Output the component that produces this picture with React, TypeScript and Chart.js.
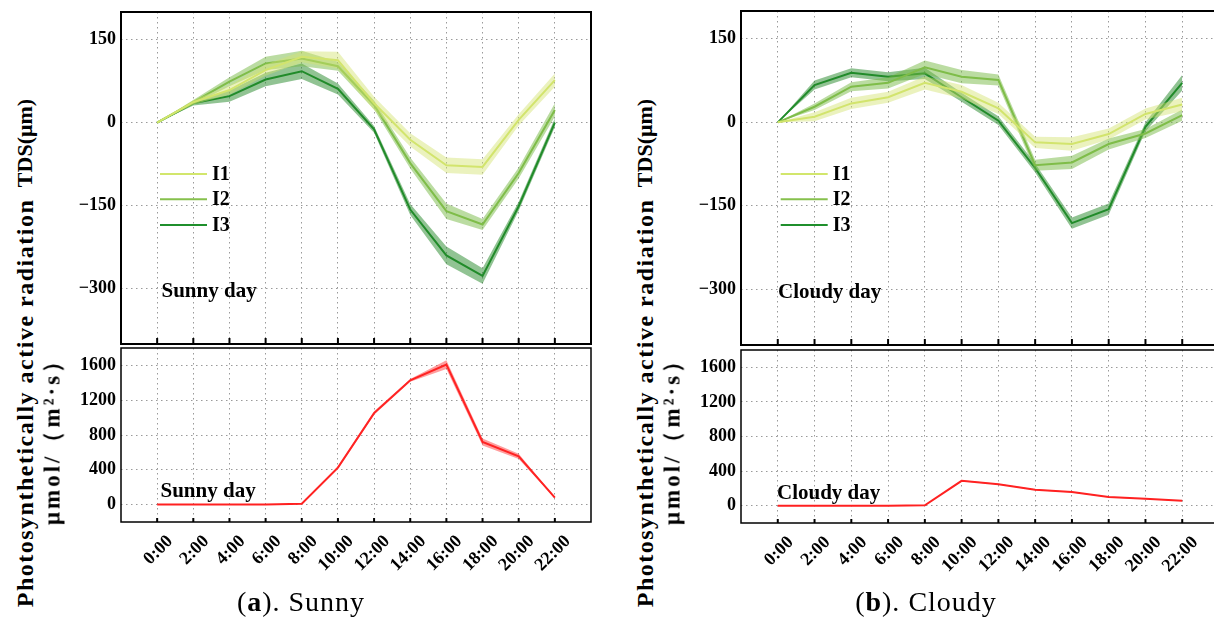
import React, { useEffect, useRef } from "react";
import { Chart, registerables } from "chart.js";
Chart.register(...registerables);

// ---------- data ----------
const hours = ["0:00", "2:00", "4:00", "6:00", "8:00", "10:00", "12:00", "14:00", "16:00", "18:00", "20:00", "22:00"];
const tdsTicks = [-300, -150, 0, 150];
const parTicks = [0, 400, 800, 1200, 1600];
const seriesNames = ["I1", "I2", "I3"];

const sunnyI1 = [0, 37, 59, 95, 119, 113, 35, -31, -77, -80, 5, 77];
const sunnyI1Err = [0, 4, 8, 10, 10, 15, 12, 12, 14, 14, 10, 12];
const sunnyI2 = [0, 37, 74, 107, 116, 102, 32, -73, -160, -184, -91, 23];
const sunnyI2Err = [0, 4, 8, 12, 14, 8, 8, 10, 14, 10, 10, 12];
const sunnyI3 = [0, 35, 48, 78, 93, 61, -12, -157, -240, -277, -151, 0];
const sunnyI3Err = [0, 4, 10, 12, 14, 10, 6, 10, 16, 14, 8, 8];
const sunnyPAR = [0, 0, 0, 0, 10, 425, 1052, 1428, 1610, 720, 555, 80];
const sunnyPARErr = [0, 0, 0, 0, 5, 15, 20, 15, 50, 40, 30, 5];

const cloudyI1 = [0, 10, 34, 45, 71, 55, 25, -36, -39, -21, 15, 32];
const cloudyI1Err = [0, 8, 10, 10, 12, 12, 10, 10, 12, 10, 10, 12];
const cloudyI2 = [0, 28, 64, 71, 99, 82, 76, -77, -72, -39, -20, 13];
const cloudyI2Err = [0, 6, 8, 10, 12, 12, 10, 10, 12, 10, 8, 10];
const cloudyI3 = [0, 67, 89, 82, 88, 45, 3, -82, -181, -156, -8, 71];
const cloudyI3Err = [0, 8, 8, 8, 10, 8, 8, 8, 10, 10, 8, 14];
const cloudyPAR = [0, 0, 0, 0, 5, 287, 249, 184, 157, 100, 80, 57];
const cloudyPARErr = [0, 0, 0, 0, 2, 6, 5, 5, 5, 4, 4, 3];

// ---------- styles ----------
const lineColors = ["#d2e66c", "#86c04c", "#1f8f2c"];
const bandColors = ["rgba(210,226,110,0.45)", "rgba(120,185,70,0.5)", "rgba(35,135,40,0.5)"];
const parLine = "#ff2020";
const parBand = "rgba(255,40,40,0.45)";
const SERIF = "'Liberation Serif', 'Times New Roman', serif";

Chart.defaults.color = "#000";

function pts(arr: number[], err?: number[], sign = 0) {
  return arr.map((v, i) => ({ x: i, y: v + sign * (err ? err[i] : 0) }));
}

function bandDatasets(vals: number[], err: number[], line: string, band: string) {
  return [
    { data: pts(vals, err, 1), borderWidth: 0, pointRadius: 0, fill: "+1", backgroundColor: band, borderColor: "rgba(0,0,0,0)" },
    { data: pts(vals, err, -1), borderWidth: 0, pointRadius: 0, fill: false, borderColor: "rgba(0,0,0,0)" },
    { data: pts(vals), borderWidth: 2, pointRadius: 0, fill: false, borderColor: line },
  ];
}

type Deco = {
  boxWidth: number;
  tickLen: number;
  label: string;
  labelDx: number;
  labelDy: number;
  legend?: { dx: number; dys: number[] };
};

function decoPlugin(d: Deco) {
  return {
    id: "deco",
    afterDraw(chart: any) {
      const { ctx, chartArea: a, scales } = chart;
      ctx.save();
      ctx.strokeStyle = "#000";
      ctx.lineWidth = d.boxWidth;
      ctx.strokeRect(a.left, a.top, a.right - a.left, a.bottom - a.top);
      ctx.lineWidth = 2;
      for (let i = 0; i < hours.length; i++) {
        const px = scales.x.getPixelForValue(i);
        ctx.beginPath();
        ctx.moveTo(px, a.bottom);
        ctx.lineTo(px, a.bottom - d.tickLen);
        ctx.stroke();
      }
      ctx.fillStyle = "#000";
      ctx.textBaseline = "alphabetic";
      ctx.textAlign = "left";
      ctx.font = `bold 21px ${SERIF}`;
      ctx.fillText(d.label, a.left + d.labelDx, a.top + d.labelDy);
      if (d.legend) {
        ctx.font = `bold 20px ${SERIF}`;
        ctx.textBaseline = "middle";
        d.legend.dys.forEach((dy, i) => {
          ctx.strokeStyle = lineColors[i];
          ctx.lineWidth = 2;
          ctx.beginPath();
          ctx.moveTo(a.left + d.legend!.dx, a.top + dy);
          ctx.lineTo(a.left + d.legend!.dx + 47, a.top + dy);
          ctx.stroke();
          ctx.fillText(seriesNames[i], a.left + d.legend!.dx + 52, a.top + dy + 1);
        });
      }
      ctx.restore();
    },
  };
}

function makeConfig(datasets: any[], yMin: number, yMax: number, yTicks: number[], bottom: boolean, pad: any, deco: Deco) {
  return {
    type: "line",
    data: { datasets },
    plugins: [decoPlugin(deco)],
    options: {
      animation: false,
      responsive: false,
      layout: { padding: pad, autoPadding: false },
      plugins: { legend: { display: false }, tooltip: { enabled: false } },
      scales: {
        x: {
          type: "linear",
          min: -1,
          max: 12,
          afterBuildTicks: (s: any) => {
            s.ticks = hours.map((_, i) => ({ value: i }));
          },
          afterFit: (s: any) => {
            s.height = bottom ? 80 : 0;
          },
          grid: { color: "#9a9a9a", lineWidth: 1, drawTicks: false },
          border: { display: false, dash: [1.5, 3.5] },
          ticks: {
            display: bottom,
            autoSkip: false,
            minRotation: 45,
            maxRotation: 45,
            padding: 9,
            labelOffset: 13,
            font: { family: SERIF, weight: "bold", size: 18 },
            callback: (v: any) => hours[Math.round(v)] ?? "",
          },
        },
        y: {
          min: yMin,
          max: yMax,
          afterBuildTicks: (s: any) => {
            s.ticks = yTicks.map((v) => ({ value: v }));
          },
          afterFit: (s: any) => {
            s.width = 60;
          },
          grid: { color: "#9a9a9a", lineWidth: 1, drawTicks: false },
          border: { display: false, dash: [1.5, 3.5] },
          ticks: {
            padding: 5,
            font: { family: SERIF, weight: "bold", size: 18 },
            callback: (v: any) => (v < 0 ? "\u2212" + Math.abs(v) : String(v)),
          },
        },
      },
    },
  };
}

function ChartBox(props: { left: number; top: number; width: number; height: number; make: () => any }) {
  const ref = useRef<HTMLCanvasElement>(null);
  useEffect(() => {
    const c = new Chart(ref.current as HTMLCanvasElement, props.make());
    return () => c.destroy();
  }, []);
  return (
    <canvas
      ref={ref}
      width={props.width}
      height={props.height}
      style={{ position: "absolute", left: props.left, top: props.top, width: props.width, height: props.height }}
    />
  );
}

function VText(props: { cx: number; cy: number; size: number; spacing?: number; children: any }) {
  return (
    <div
      style={{
        position: "absolute",
        left: props.cx,
        top: props.cy,
        transform: "translate(-50%, -50%) rotate(-90deg)",
        whiteSpace: "nowrap",
        fontFamily: SERIF,
        fontWeight: "bold",
        fontSize: props.size,
        letterSpacing: props.spacing ?? 0,
        lineHeight: 1,
        color: "#000",
      }}
    >
      {props.children}
    </div>
  );
}

function Caption(props: { cx: number; letter: string; word: string }) {
  return (
    <div
      style={{
        position: "absolute",
        left: props.cx - 150,
        width: 300,
        top: 588,
        textAlign: "center",
        fontFamily: SERIF,
        fontSize: 28,
        letterSpacing: 1,
        lineHeight: 1,
        color: "#000",
        whiteSpace: "nowrap",
      }}
    >
      (<b>{props.letter}</b>). {props.word}
    </div>
  );
}

export default function App() {
  const sunnyTop = () =>
    makeConfig(
      [
        ...bandDatasets(sunnyI1, sunnyI1Err, lineColors[0], bandColors[0]),
        ...bandDatasets(sunnyI2, sunnyI2Err, lineColors[1], bandColors[1]),
        ...bandDatasets(sunnyI3, sunnyI3Err, lineColors[2], bandColors[2]),
      ],
      -400, 200, tdsTicks, false,
      { top: 20, right: 10, bottom: 20, left: 0 },
      { boxWidth: 2, tickLen: 6, label: "Sunny day", labelDx: 40.5, labelDy: 285, legend: { dx: 39, dys: [162, 187.3, 213] } }
    );
  const sunnyBottom = () =>
    makeConfig(
      bandDatasets(sunnyPAR, sunnyPARErr, parLine, parBand),
      -200, 1800, parTicks, true,
      { top: 20, right: 10, bottom: 0, left: 0 },
      { boxWidth: 1.5, tickLen: 4, label: "Sunny day", labelDx: 39.5, labelDy: 148.7 }
    );
  const cloudyTop = () =>
    makeConfig(
      [
        ...bandDatasets(cloudyI1, cloudyI1Err, lineColors[0], bandColors[0]),
        ...bandDatasets(cloudyI2, cloudyI2Err, lineColors[1], bandColors[1]),
        ...bandDatasets(cloudyI3, cloudyI3Err, lineColors[2], bandColors[2]),
      ],
      -400, 200, tdsTicks, false,
      { top: 20, right: 10, bottom: 20, left: 0 },
      { boxWidth: 2, tickLen: 6, label: "Cloudy day", labelDx: 37, labelDy: 287, legend: { dx: 39.7, dys: [163, 188.3, 214] } }
    );
  const cloudyBottom = () =>
    makeConfig(
      bandDatasets(cloudyPAR, cloudyPARErr, parLine, parBand),
      -200, 1800, parTicks, true,
      { top: 20, right: 10, bottom: 0, left: 0 },
      { boxWidth: 1.5, tickLen: 4, label: "Cloudy day", labelDx: 36, labelDy: 149 }
    );

  return (
    <div style={{ position: "fixed", left: 0, top: 0, width: 1214, height: 624, overflow: "hidden", background: "#fff" }}>
      <ChartBox left={61} top={-8} width={540} height={372} make={sunnyTop} />
      <ChartBox left={61} top={328} width={540} height={274} make={sunnyBottom} />
      <ChartBox left={681} top={-9} width={548} height={374} make={cloudyTop} />
      <ChartBox left={681} top={330} width={548} height={273} make={cloudyBottom} />

      <VText cx={25} cy={143} size={22}>TDS(μm)</VText>
      <VText cx={25} cy={403} size={24} spacing={1.5}>Photosynthetically active radiation</VText>
      <VText cx={52} cy={436} size={23} spacing={3}>μmol/（m²·s）</VText>

      <VText cx={645} cy={143} size={22}>TDS(μm)</VText>
      <VText cx={645} cy={403} size={24} spacing={1.5}>Photosynthetically active radiation</VText>
      <VText cx={672} cy={436} size={23} spacing={3}>μmol/（m²·s）</VText>

      <Caption cx={301} letter="a" word="Sunny" />
      <Caption cx={926} letter="b" word="Cloudy" />
    </div>
  );
}
